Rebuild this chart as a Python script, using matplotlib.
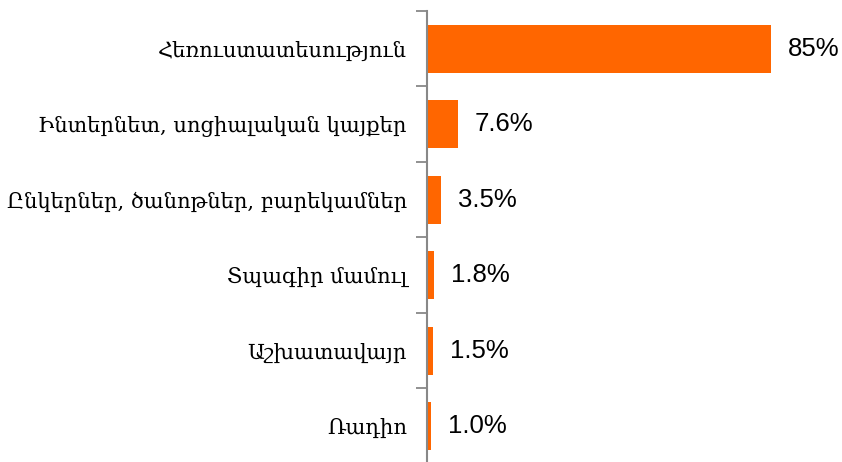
import matplotlib.pyplot as plt

labels = ['Հեռուստատեսություն', 'Ինտերնետ, սոցիալական կայքեր',
          'Ընկերներ, ծանոթներ, բարեկամներ', 'Տպագիր մամուլ',
          'Աշխատավայր', 'Ռադիո']
values = [85, 7.6, 3.5, 1.8, 1.5, 1.0]
value_text = ['85%', '7.6%', '3.5%', '1.8%', '1.5%', '1.0%']

fig = plt.figure(figsize=(8.42, 4.62), dpi=100)
ax = fig.add_axes([427/842, -2/462, 405/842, 453/462])

pos = list(range(len(values)))
ax.barh(pos, values, height=0.64, color='#ff6600')
ax.set_ylim(len(values) - 0.5, -0.5)
ax.set_xlim(0, 100)

for p, v, t in zip(pos, values, value_text):
    ax.text(v + 4.2, p, t, va='center', ha='left', fontsize=18.5,
            family=['Liberation Sans', 'DejaVu Sans'], color='black')

ax.set_yticks([p + 0.5 for p in [-1] + pos])
ax.set_yticklabels([])
ax.set_yticks(pos, minor=True)
ax.set_yticklabels(labels, minor=True, fontsize=15.1, family=['DejaVu Serif', 'DejaVu Sans'])
ax.tick_params(axis='y', which='minor', length=0, pad=14.5)
ax.tick_params(axis='y', which='major', length=8, width=1.3, color='#888888', direction='out')
ax.set_xticks([])
for s in ['top', 'right', 'bottom']:
    ax.spines[s].set_visible(False)
ax.spines['left'].set_color('#888888')
ax.spines['left'].set_linewidth(1.5)

fig.savefig('out.png', dpi=100)
